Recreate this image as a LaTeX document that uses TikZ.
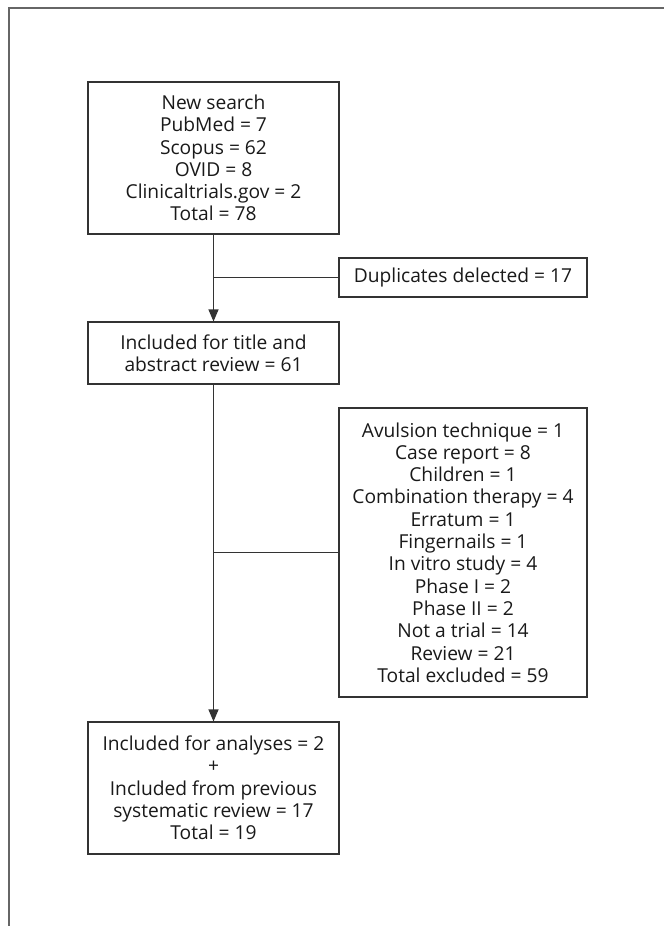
\documentclass[tikz,border=0pt]{standalone}
\usepackage{fontspec}
\setmainfont{Open Sans}
\usetikzlibrary{arrows.meta}
\definecolor{boxline}{HTML}{333333}
\definecolor{framecol}{HTML}{666666}
\tikzset{
  flowbox/.style={draw=boxline, line width=1.1pt, align=center, inner sep=0pt,
    font=\fontsize{19.2}{22.3}\selectfont, text=black!90},
  conn/.style={draw=boxline, line width=1.1pt},
  arr/.style={conn, -{Triangle[length=12pt,width=10pt]}}
}
\begin{document}
\begin{tikzpicture}[x=1pt,y=-1pt]
\useasboundingbox (0,0) rectangle (664,926);
\draw[framecol, line width=2pt] (8.5,926) -- (8.5,7.5) -- (664,7.5);

\node[flowbox, minimum width=251pt, minimum height=152pt] (b1) at (213.5,158)
  {New search\\PubMed = 7\\Scopus = 62\\OVID = 8\\Clinicaltrials.gov = 2\\Total = 78};
\node[flowbox, minimum width=248pt, minimum height=39pt] (dup) at (463,277.5)
  {Duplicates delected = 17};
\node[flowbox, minimum width=251pt, minimum height=62pt] (b2) at (213.5,353)
  {Included for title and\\abstract review = 61};
\node[flowbox, minimum width=248pt, minimum height=289pt] (ex) at (463,552.5)
  {Avulsion technique = 1\\Case report = 8\\Children = 1\\Combination therapy = 4\\Erratum = 1\\Fingernails = 1\\In vitro study = 4\\Phase I = 2\\Phase II = 2\\Not a trial = 14\\Review = 21\\Total excluded = 59};
\node[flowbox, minimum width=251pt, minimum height=132pt] (b3) at (213.5,788)
  {Included for analyses = 2\\+\\Included from previous\\systematic review = 17\\Total = 19};

\coordinate (j1) at (b1.south |- dup.west);
\coordinate (j2) at (b2.south |- ex.west);
\draw[arr] (b1.south) -- (b2.north);
\draw[conn] (j1) -- (dup.west);
\draw[arr] (b2.south) -- (b3.north);
\draw[conn] (j2) -- (ex.west);
\end{tikzpicture}
\end{document}
